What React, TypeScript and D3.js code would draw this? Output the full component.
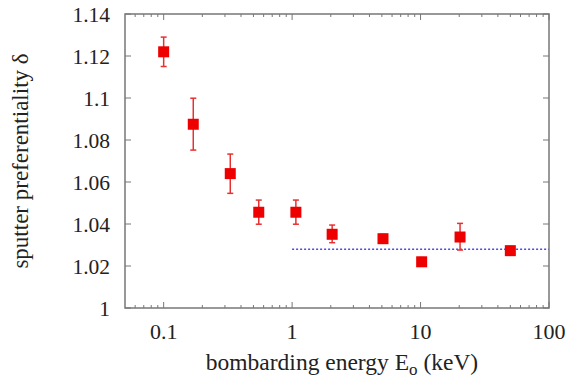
import React from "react";
import * as d3 from "d3";

const energies = [0.1, 0.17, 0.33, 0.55, 1.07, 2.05, 5.1, 10.2, 20.3, 50];
const delta = [1.122, 1.0875, 1.064, 1.0456, 1.0456, 1.0351, 1.033, 1.022, 1.0338, 1.0273];
const errLow = [1.115, 1.0752, 1.0546, 1.0399, 1.0399, 1.0311, 1.031, 1.02, 1.0276, 1.0253];
const errHigh = [1.129, 1.0999, 1.0733, 1.0514, 1.0514, 1.0395, 1.035, 1.024, 1.0403, 1.0293];
const xTicks = [0.1, 1, 10, 100];
const xTickLabels = ["0.1", "1", "10", "100"];
const yTicks = [1, 1.02, 1.04, 1.06, 1.08, 1.1, 1.12, 1.14];
const yTickLabels = ["1", "1.02", "1.04", "1.06", "1.08", "1.1", "1.12", "1.14"];
const fitValue = 1.028;
const fitRange = [1, 100];

const W = 570, H = 381;
const M = { left: 125, right: 549, top: 14, bottom: 308 };

export default function App() {
  const x = d3.scaleLog().domain([0.05, 100]).range([M.left, M.right]);
  const y = d3.scaleLinear().domain([1, 1.14]).range([M.bottom, M.top]);
  const minor: number[] = [];
  [0.01, 0.1, 1, 10].forEach((d) => {
    for (let k = 2; k <= 9; k++) {
      const v = d * k;
      if (v > 0.05 && v < 100) minor.push(v);
    }
  });
  const font = "'Liberation Serif', 'Times New Roman', serif";
  const frame = "#777";
  const red = "#ee0000";
  const ms = 11;
  return (
    <svg width={W} height={H} style={{ position: "absolute", left: 0, top: 0, background: "#fff" }}>
      <line x1={x(fitRange[0])} x2={x(fitRange[1])} y1={y(fitValue)} y2={y(fitValue)}
        stroke="#4848ee" strokeWidth={1.5} strokeDasharray="2,2" />
      {minor.map((v) => (
        <g key={"m" + v}>
          <line x1={x(v)} x2={x(v)} y1={M.bottom} y2={M.bottom - 3} stroke={frame} />
          <line x1={x(v)} x2={x(v)} y1={M.top} y2={M.top + 3} stroke={frame} />
        </g>
      ))}
      {xTicks.map((v, i) => (
        <g key={"x" + v}>
          <line x1={x(v)} x2={x(v)} y1={M.bottom} y2={M.bottom - 6} stroke={frame} />
          <line x1={x(v)} x2={x(v)} y1={M.top} y2={M.top + 6} stroke={frame} />
          <text x={x(v)} y={339} textAnchor="middle" style={{ fontFamily: font }} fontSize={22} fill="#222">
            {xTickLabels[i]}
          </text>
        </g>
      ))}
      {yTicks.map((v, i) => (
        <g key={"y" + v}>
          <line x1={M.left} x2={M.left + 6} y1={y(v)} y2={y(v)} stroke={frame} />
          <line x1={M.right} x2={M.right - 6} y1={y(v)} y2={y(v)} stroke={frame} />
          <text x={110} y={y(v) + 7.5} textAnchor="end" style={{ fontFamily: font }} fontSize={21.5} fill="#222">
            {yTickLabels[i]}
          </text>
        </g>
      ))}
      <rect x={M.left} y={M.top} width={M.right - M.left} height={M.bottom - M.top}
        fill="none" stroke={frame} strokeWidth={1.5} />
      {energies.map((e, i) => (
        <g key={"p" + i}>
          <line x1={x(e)} x2={x(e)} y1={y(errLow[i])} y2={y(errHigh[i])} stroke="#e83030" strokeWidth={1.5} />
          <line x1={x(e) - 3} x2={x(e) + 3} y1={y(errLow[i])} y2={y(errLow[i])} stroke="#e83030" strokeWidth={1.5} />
          <line x1={x(e) - 3} x2={x(e) + 3} y1={y(errHigh[i])} y2={y(errHigh[i])} stroke="#e83030" strokeWidth={1.5} />
          <rect x={x(e) - ms / 2} y={y(delta[i]) - ms / 2} width={ms} height={ms} fill={red} />
        </g>
      ))}
      <text x={342} y={370} textAnchor="middle" style={{ fontFamily: font }} fontSize={23.5} fill="#222">
        bombarding energy E<tspan dy={5} fontSize={17}>o</tspan><tspan dy={-5}> (keV)</tspan>
      </text>
      <text transform={`translate(28,161) rotate(-90)`} textAnchor="middle"
        style={{ fontFamily: font }} fontSize={23} fill="#222">
        sputter preferentiality δ
      </text>
    </svg>
  );
}
